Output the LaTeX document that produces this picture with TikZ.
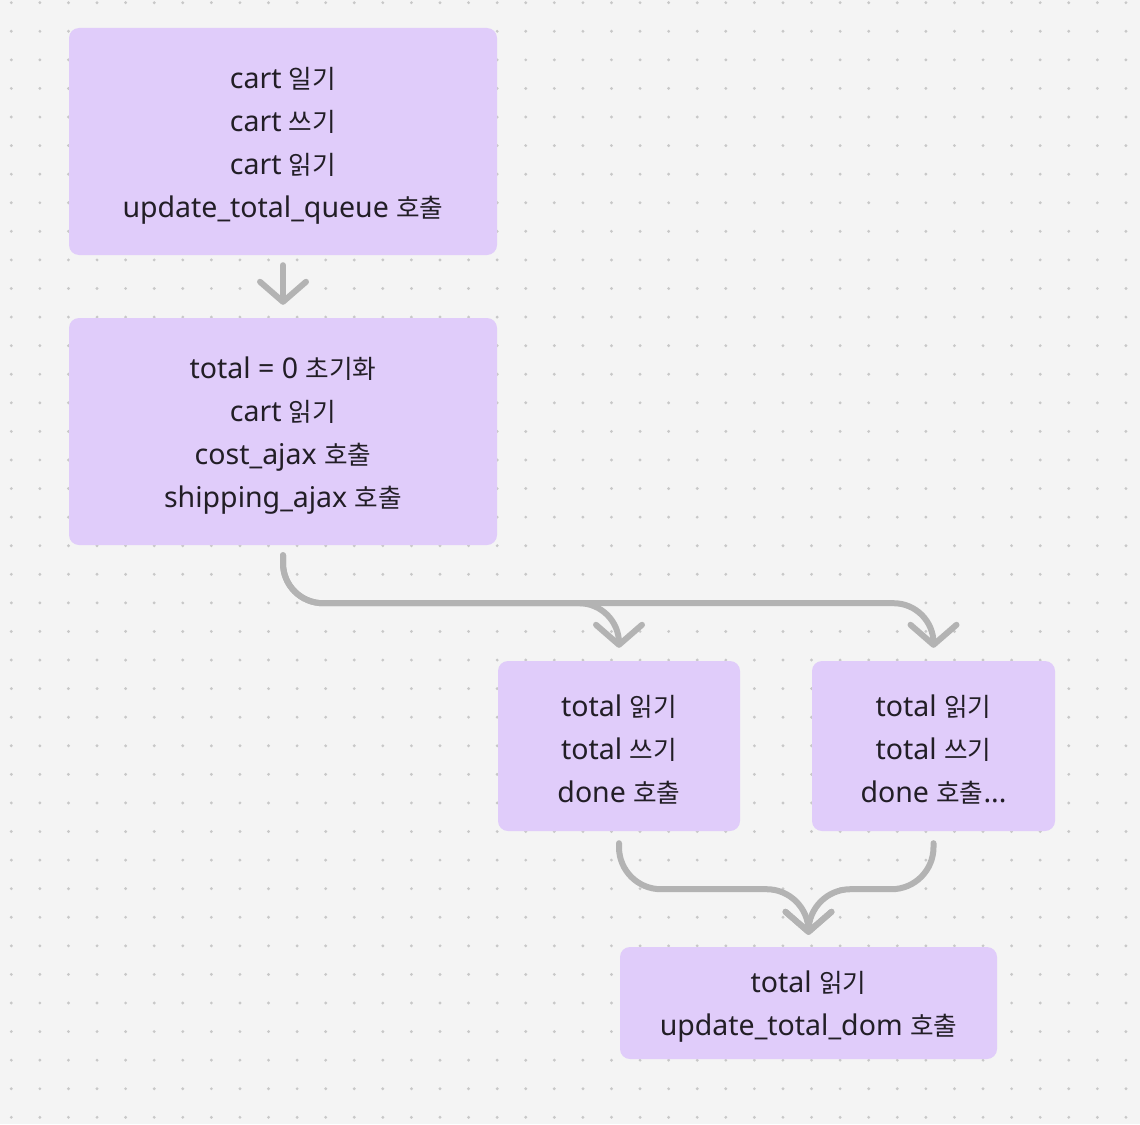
\documentclass[tikz,border=0pt]{standalone}
\usepackage{fontspec}
\setmainfont{Noto Sans}
\newfontfamily\kr[Scale=0.9]{Noto Sans CJK KR}
\usetikzlibrary{arrows.meta}
\definecolor{bgc}{RGB}{244,244,244}
\definecolor{boxc}{RGB}{224,204,250}
\definecolor{dotc}{RGB}{200,200,200}
\definecolor{arrc}{RGB}{179,179,179}
\definecolor{txt}{RGB}{34,30,38}
\newcommand{\lift}{\rule{0pt}{29pt}}
\begin{document}
\begin{tikzpicture}[x=1pt,y=-1pt,
  box/.style={fill=boxc, rounded corners=10pt, align=center, text=txt,
    font=\fontsize{28.5}{43}\selectfont, inner sep=0pt},
  conn/.style={draw=arrc, line width=6pt, line cap=round, line join=round,
    -{Straight Barb[round,length=20pt,width=46pt]}}]
\useasboundingbox (0,0) rectangle (1140,1124);
\fill[bgc] (0,0) rectangle (1140,1124);
\foreach \i in {0,...,39}{
  \foreach \j in {0,...,39}{
    \fill[dotc] (11.3+28.58*\i, 2.7+28.58*\j) circle (1.6pt);
  }
}
\node[box, minimum width=428pt, minimum height=227pt] (b1) at (283,141.5)
  {\lift cart {\kr 일기}\\cart {\kr 쓰기}\\cart {\kr 읽기}\\update\_total\_queue {\kr 호출}};
\node[box, minimum width=428pt, minimum height=227pt] (b2) at (283,431.5)
  {\lift total = 0 {\kr 초기화}\\cart {\kr 읽기}\\cost\_ajax {\kr 호출}\\shipping\_ajax {\kr 호출}};
\node[box, minimum width=242pt, minimum height=170pt] (b3) at (619,746)
  {\lift total {\kr 읽기}\\total {\kr 쓰기}\\done {\kr 호출}};
\node[box, minimum width=243pt, minimum height=170pt] (b4) at (933.5,746)
  {\lift total {\kr 읽기}\\total {\kr 쓰기}\\done {\kr 호출}...};
\node[box, minimum width=377pt, minimum height=112pt] (b5) at (808.5,1003)
  {\lift total {\kr 읽기}\\update\_total\_dom {\kr 호출}};
\draw[conn] ([yshift=-10pt]b1.south) -- ([yshift=13pt]b2.north);
\draw[conn, rounded corners=40pt] ([yshift=-10pt]b2.south) -- ++(0,48) -| ([yshift=13pt]b3.north);
\draw[conn, rounded corners=40pt] ([yshift=-10pt]b2.south) -- ++(0,48) -| ([yshift=13pt]b4.north);
\draw[conn, rounded corners=42pt] ([yshift=-12pt]b3.south) -- ++(0,46) -| ([yshift=12pt]b5.north);
\draw[conn, rounded corners=42pt] ([yshift=-12pt]b4.south) -- ++(0,46) -| ([yshift=12pt]b5.north);
\end{tikzpicture}
\end{document}
